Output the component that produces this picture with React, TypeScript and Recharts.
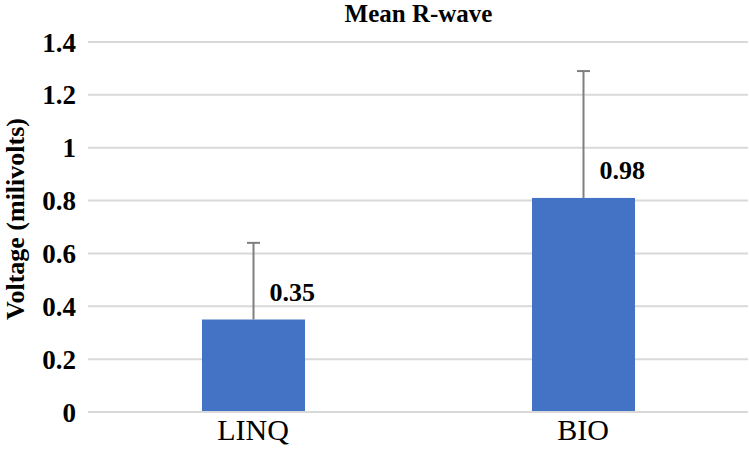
import React from 'react'
import { BarChart, Bar, XAxis, YAxis, CartesianGrid, LabelList } from 'recharts'

const categories = ['LINQ', 'BIO']
const means = [0.35, 0.81]
const errorsUp = [0.29, 0.48]
const valueLabels = ['0.35', '0.98']
const yTicks = [0, 0.2, 0.4, 0.6, 0.8, 1, 1.2, 1.4]

const data = categories.map((name, i) => ({
  name,
  mean: means[i],
  err: errorsUp[i],
  label: valueLabels[i],
}))

const FONT = "'Liberation Serif', Tinos, 'DejaVu Serif', serif"
const BLUE = '#4472C4'
const WHISKER = '#7f7f7f'

// bar + upper-only error whisker, scaled from the bar's own pixel height
function BarWithError(props: any) {
  const { x, y, width, height, payload } = props
  const pxPerUnit = payload.mean ? height / payload.mean : 0
  const cx = x + width / 2
  const top = y - payload.err * pxPerUnit
  return (
    <g>
      <rect x={x} y={y} width={width} height={height} fill={BLUE} />
      <line x1={cx} y1={y} x2={cx} y2={top} stroke={WHISKER} strokeWidth={2} />
      <line x1={cx - 6.5} y1={top} x2={cx + 6.5} y2={top} stroke={WHISKER} strokeWidth={2} />
    </g>
  )
}

function ValueLabel(props: any) {
  const { x, y, width, value } = props
  return (
    <text
      x={x + width / 2 + 16}
      y={y - 19}
      textAnchor="start"
      style={{ fontFamily: FONT, fontWeight: 'bold', fontSize: 26 }}
      fill="#000"
    >
      {value}
    </text>
  )
}

function YTitle(props: any) {
  const { viewBox } = props
  const cx = 15
  const cy = viewBox.y + viewBox.height / 2 - 8
  return (
    <text
      x={cx}
      y={cy}
      transform={`rotate(-90, ${cx}, ${cy})`}
      textAnchor="middle"
      dominantBaseline="central"
      style={{ fontFamily: FONT, fontSize: 26, fontWeight: 'bold' }}
      fill="#000"
    >
      Voltage (milivolts)
    </text>
  )
}

export default function App() {
  return (
    <div style={{ position: 'absolute', left: 0, top: 0, width: 749, height: 449, background: '#fff' }}>
      <BarChart
        width={749}
        height={449}
        data={data}
        margin={{ top: 42, right: 1, bottom: 0, left: 0 }}
        barSize={103}
      >
        <text
          x={418.5}
          y={22}
          textAnchor="middle"
          style={{ fontFamily: FONT, fontSize: 25, fontWeight: 'bold' }}
          fill="#000"
        >
          Mean R-wave
        </text>
        <CartesianGrid vertical={false} stroke="#d9d9d9" strokeWidth={2} />
        <XAxis
          dataKey="name"
          height={37}
          axisLine={{ stroke: '#d9d9d9', strokeWidth: 2 }}
          tickLine={false}
          tickMargin={1}
          tick={{ style: { fontFamily: FONT, fontSize: 30 }, fill: '#000' }}
        />
        <YAxis
          width={88}
          domain={[0, 1.4]}
          ticks={yTicks}
          axisLine={false}
          tickLine={false}
          tickMargin={6}
          tick={{ style: { fontFamily: FONT, fontSize: 27, fontWeight: 'bold' }, fill: '#000' }}
          label={<YTitle />}
        />
        <Bar dataKey="mean" fill={BLUE} shape={BarWithError} isAnimationActive={false}>
          <LabelList dataKey="label" content={ValueLabel} />
        </Bar>
      </BarChart>
    </div>
  )
}
